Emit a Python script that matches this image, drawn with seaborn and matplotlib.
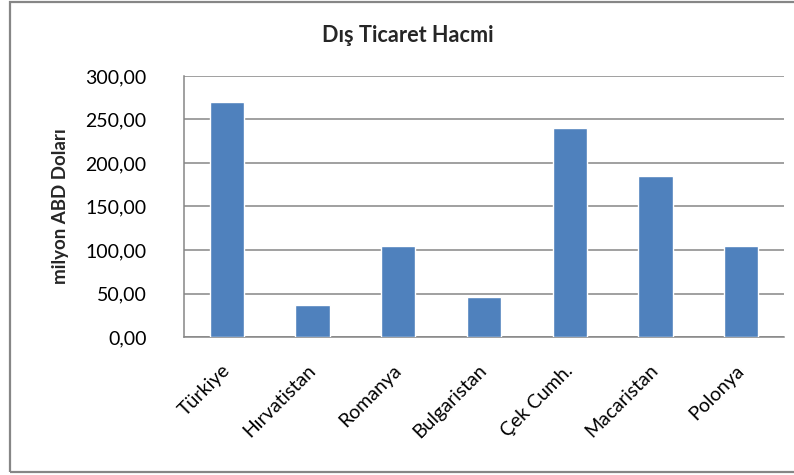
import matplotlib
matplotlib.use("Agg")
import matplotlib.pyplot as plt
import seaborn as sns
import pandas as pd
from matplotlib.patches import Rectangle
from matplotlib.ticker import FuncFormatter

categories = ["Türkiye", "Hırvatistan", "Romanya", "Bulgaristan", "Çek Cumh.", "Macaristan", "Polonya"]
values = [270.0, 37.0, 105.0, 46.0, 240.0, 185.0, 105.0]
title = "Dış Ticaret Hacmi"
ylabel = "milyon ABD Doları"
yticks = [0, 50, 100, 150, 200, 250, 300]

sns.set_style("white")
plt.rcParams["font.family"] = ["Lato", "DejaVu Sans"]

df = pd.DataFrame({"country": categories, "value": values})

fig = plt.figure(figsize=(7.94, 4.75), dpi=100)
ax = fig.add_axes([184/794, 1-337/475, 600/794, 261/475])

sns.barplot(data=df, x="country", y="value", color="#4F81BD", width=0.4,
            saturation=1, ax=ax, zorder=3)

grid_c = "#868686"
ax.set_ylim(0, 300)
ax.set_yticks(yticks)
ax.yaxis.set_major_formatter(FuncFormatter(lambda v, p: f"{v:.2f}".replace(".", ",")))
ax.yaxis.grid(True, color=grid_c, lw=1.1, zorder=0)
ax.set_axisbelow(True)
for s in ["top", "right"]:
    ax.spines[s].set_visible(False)
for s in ["left", "bottom"]:
    ax.spines[s].set_color(grid_c)
    ax.spines[s].set_linewidth(1.1)
ax.tick_params(axis="both", length=0, labelsize=14, colors="black")
ax.tick_params(axis="y", pad=27)
ax.set_xlabel("")
ax.set_ylabel(ylabel, fontsize=13.5, fontweight="bold", labelpad=12)

for lab in ax.get_xticklabels():
    lab.set_rotation(45)
    lab.set_ha("right")
    lab.set_va("center")
    lab.set_rotation_mode("anchor")
ax.tick_params(axis="x", pad=22)

fig.text(408/794, 1-36/475, title, ha="center", va="center", fontsize=15.6, fontweight="bold")

fig.patches.append(Rectangle((10/794, 1-472/475), 1.0, 470/475, transform=fig.transFigure,
                             fill=False, edgecolor=grid_c, lw=1.6, figure=fig))

fig.savefig("out.png", dpi=100)
